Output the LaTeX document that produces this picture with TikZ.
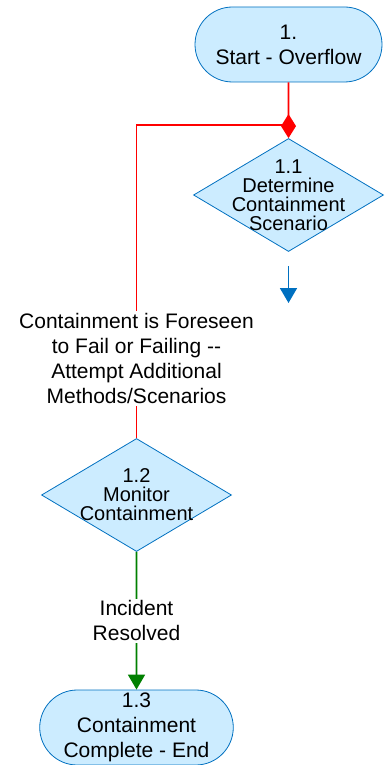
\documentclass[tikz,border=0pt]{standalone}
\usepackage{fontspec}
\setmainfont{Liberation Sans}
\usetikzlibrary{arrows.meta,shapes.geometric,shapes.misc}

\definecolor{boxfill}{RGB}{204,236,255}
\definecolor{boxline}{RGB}{0,112,192}
\definecolor{failred}{RGB}{255,0,0}
\definecolor{okgreen}{RGB}{0,128,0}

\begin{document}
\begin{tikzpicture}[
    x=1pt, y=-1pt,
    font=\fontsize{21}{25}\selectfont,
    terminal/.style = {
      draw=boxline,
      fill=boxfill,
      line width=0.8pt,
      rounded rectangle,
      minimum width=189pt,
      minimum height=75pt,
      inner sep=1pt,
      align=center
    },
    decision/.style = {
      draw=boxline,
      fill=boxfill,
      line width=0.8pt,
      diamond,
      minimum width=190pt,
      minimum height=113pt,
      inner sep=0pt
    },
    dtext/.style = {align=center, font=\fontsize{20}{19}\selectfont, inner sep=0pt},
    fail/.style = {draw=failred, line width=1.8pt},
    done/.style = {draw=okgreen, line width=1.8pt},
    lbl/.style = {fill=white, align=center, inner sep=2pt}
  ]
  \useasboundingbox (0,0) rectangle (388,765);

  \node[terminal] (start) at (288.5,44.5) {1.\\Start - Overflow};
  \node[decision, label={[dtext]center:{1.1\\Determine\\Containment\\Scenario}}] (det) at (288.5,195) {};
  \node[decision, label={[dtext]center:{1.2\\Monitor\\Containment}}] (mon) at (136.5,495) {};
  \node[terminal] (fin) at (136.5,727.5) {1.3\\Containment\\Complete - End};

  \coordinate (jn) at (288.5,125);
  \coordinate (b1) at (288.5,266);
  \coordinate (b2) at (288.5,303);

  % loop back
  \draw[fail] (mon) |- (jn) node[lbl, pos=0.127] {Containment is Foreseen\\to Fail or Failing -{}-\\Attempt Additional\\Methods/Scenarios};
  \draw[fail, -{Diamond[length=24pt,width=15pt]}] (start) -- (det);

  \draw[draw=boxline, line width=1.8pt, -{Triangle[length=15pt,width=17pt]}] (b1) -- (b2);

  \draw[done, -{Triangle[length=15pt,width=17pt]}] (mon) -- (fin) node[lbl, midway] {Incident\\Resolved};

\end{tikzpicture}
\end{document}
